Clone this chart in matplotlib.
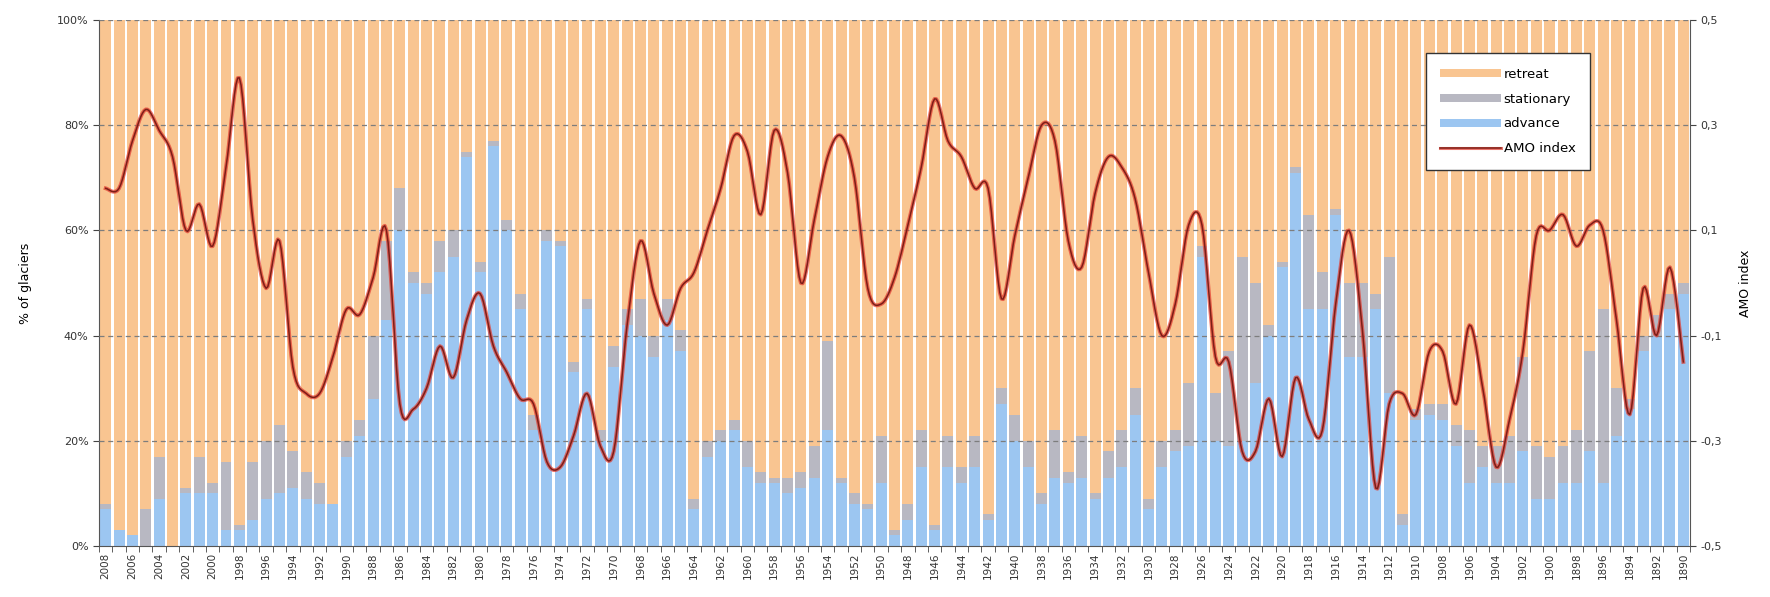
import matplotlib
matplotlib.use("Agg")
import matplotlib.pyplot as plt
import matplotlib.patheffects as pe
from matplotlib.patches import Patch
from matplotlib.lines import Line2D
import numpy as np

# ---------------- data ----------------
years = list(range(2008, 1889, -1))  # 2008 ... 1890

advance = [7, 3, 2, 0, 9, 0, 10, 10, 10, 3,
           3, 5, 9, 10, 11, 9, 8, 8, 17, 21,
           28, 43, 60, 50, 48, 52, 55, 74, 52, 76,
           60, 45, 22, 58, 57, 33, 45, 20, 34, 42,
           40, 36, 43, 37, 7, 17, 20, 22, 15, 12,
           12, 10, 11, 13, 22, 12, 8, 7, 12, 2,
           5, 15, 3, 15, 12, 15, 5, 27, 20, 15,
           8, 13, 12, 13, 9, 13, 15, 25, 7, 15,
           18, 19, 55, 20, 19, 20, 31, 40, 53, 71,
           45, 45, 63, 36, 36, 45, 29, 4, 24, 25,
           24, 19, 12, 15, 12, 12, 18, 9, 9, 12,
           12, 18, 12, 21, 26, 37, 40, 45, 48]

stationary = [1, 0, 0, 7, 8, 0, 1, 7, 2, 13,
              1, 11, 11, 13, 7, 5, 4, 0, 3, 3,
              12, 15, 8, 2, 2, 6, 5, 1, 2, 1,
              2, 3, 3, 2, 1, 2, 2, 2, 4, 3,
              7, 4, 4, 4, 2, 3, 2, 2, 5, 2,
              1, 3, 3, 6, 17, 1, 2, 1, 9, 1,
              3, 7, 1, 6, 3, 6, 1, 3, 5, 5,
              2, 9, 2, 8, 1, 5, 7, 5, 2, 5,
              4, 12, 2, 9, 18, 35, 19, 2, 1, 1,
              18, 7, 1, 14, 14, 3, 26, 2, 2, 2,
              3, 4, 10, 4, 7, 9, 18, 10, 8, 7,
              10, 19, 33, 9, 2, 3, 4, 3, 2]

amo = [0.18, 0.18, 0.27, 0.33, 0.29, 0.24, 0.10, 0.15, 0.07, 0.22,
       0.39, 0.12, -0.01, 0.08, -0.16, -0.21, -0.21, -0.14, -0.05, -0.06,
       0.01, 0.10, -0.23, -0.24, -0.20, -0.12, -0.18, -0.07, -0.02, -0.12,
       -0.17, -0.22, -0.23, -0.34, -0.35, -0.29, -0.21, -0.31, -0.32, -0.08,
       0.08, -0.02, -0.08, -0.01, 0.02, 0.10, 0.18, 0.28, 0.25, 0.13,
       0.29, 0.21, 0.00, 0.12, 0.24, 0.28, 0.20, -0.01, -0.04, 0.01,
       0.11, 0.22, 0.35, 0.27, 0.24, 0.18, 0.18, -0.03, 0.09, 0.20,
       0.30, 0.27, 0.08, 0.03, 0.17, 0.24, 0.22, 0.16, 0.02, -0.10,
       -0.04, 0.11, 0.11, -0.14, -0.15, -0.32, -0.32, -0.22, -0.33, -0.18,
       -0.26, -0.28, -0.04, 0.10, -0.09, -0.39, -0.23, -0.21, -0.25, -0.13,
       -0.13, -0.23, -0.08, -0.20, -0.35, -0.26, -0.13, 0.09, 0.10, 0.13,
       0.07, 0.11, 0.10, -0.07, -0.25, -0.01, -0.10, 0.03, -0.15]

retreat = [100 - a - s for a, s in zip(advance, stationary)]

series_labels = ["retreat", "stationary", "advance", "AMO index"]
pct_ticks = [0, 20, 40, 60, 80, 100]
amo_ticks = [-0.5, -0.3, -0.1, 0.1, 0.3, 0.5]

# ---------------- style ----------------
C_RET = "#F9C591"
C_STA = "#B8B8C2"
C_ADV = "#9CC6F1"
C_LINE = "#E23A2E"
C_LINE_CORE = "#7E1E17"


def smooth(xs, ys, n=8):
    """Catmull-Rom rendering of the line (like Excel's smoothed line)."""
    xs = np.asarray(xs, float)
    ys = np.asarray(ys, float)
    P = np.column_stack([xs, ys])
    P = np.vstack([P[0], P, P[-1]])
    out = []
    t = np.linspace(0, 1, n, endpoint=False)
    for i in range(1, len(P) - 2):
        p0, p1, p2, p3 = P[i - 1], P[i], P[i + 1], P[i + 2]
        tt = t[:, None]
        seg = 0.5 * ((2 * p1) + (-p0 + p2) * tt + (2 * p0 - 5 * p1 + 4 * p2 - p3) * tt ** 2
                     + (-p0 + 3 * p1 - 3 * p2 + p3) * tt ** 3)
        out.append(seg)
    out.append(P[-2][None, :])
    out = np.vstack(out)
    return out[:, 0], out[:, 1]


fig = plt.figure(figsize=(17.7, 5.97), dpi=100)
W, H = 1770, 597
left, right, top, bottom = 99, 1690, 20, 546
ax = fig.add_axes([left / W, 1 - bottom / H, (right - left) / W, (bottom - top) / H])

x = np.arange(len(years))
bw = 0.82
ax.bar(x, advance, width=bw, color=C_ADV, zorder=2, linewidth=0)
ax.bar(x, stationary, width=bw, bottom=advance, color=C_STA, zorder=2, linewidth=0)
ax.bar(x, retreat, width=bw, bottom=[a + s for a, s in zip(advance, stationary)],
       color=C_RET, zorder=2, linewidth=0)

for yv in pct_ticks[1:]:
    ax.axhline(yv, color="#7d7d7d", lw=0.9, ls=(0, (4, 3)), zorder=3)

ax.set_xlim(-0.5, len(years) - 0.5)
ax.set_ylim(0, 100)
ax.set_yticks(pct_ticks)
ax.set_yticklabels([f"{v}%" for v in pct_ticks], fontsize=8, color="#333333")
ax.set_xticks(x[::2])
ax.set_xticklabels([str(years[i]) for i in x[::2]], rotation=90, fontsize=7.5, color="#333333")
ax.tick_params(axis="x", which="major", length=0, pad=5)
ax.set_xticks(np.arange(-0.5, len(years), 1), minor=True)
ax.tick_params(axis="x", which="minor", length=4, color="#444444")
ax.tick_params(axis="y", length=4, color="#444444")
for side in ["top", "right"]:
    ax.spines[side].set_visible(False)
for side in ["left", "bottom"]:
    ax.spines[side].set_color("#555555")
ax.set_ylabel("% of glaciers", fontsize=9, labelpad=18)

ax2 = ax.twinx()
ax2.set_ylim(-0.5, 0.5)
ax2.set_yticks(amo_ticks)
ax2.set_yticklabels([f"{v:.1f}".replace(".", ",") for v in amo_ticks], fontsize=8, color="#333333")
ax2.tick_params(axis="y", length=4, color="#444444")
for side in ["top", "left", "bottom"]:
    ax2.spines[side].set_visible(False)
ax2.spines["right"].set_color("#555555")
ax2.set_ylabel("AMO index", fontsize=9, labelpad=12)

sx, sy = smooth(x, amo)
ax2.plot(sx, sy, color=C_LINE_CORE, lw=1.1, zorder=5,
         path_effects=[pe.Stroke(linewidth=2.8, foreground=C_LINE, alpha=0.7), pe.Normal()])

handles = [Patch(facecolor=C_RET, edgecolor="none"),
           Patch(facecolor=C_STA, edgecolor="none"),
           Patch(facecolor=C_ADV, edgecolor="none"),
           Line2D([0], [0], color=C_LINE_CORE, lw=1.1,
                  path_effects=[pe.Stroke(linewidth=2.2, foreground=C_LINE, alpha=0.7), pe.Normal()])]
leg = ax2.legend(handles, series_labels, loc="upper left", bbox_to_anchor=(0.834, 0.937),
                 fontsize=9.5, frameon=True, fancybox=False, framealpha=1,
                 edgecolor="#333333", handlelength=4.6, handleheight=0.6,
                 borderpad=1.1, labelspacing=0.9, handletextpad=0.2, borderaxespad=0)
leg.get_frame().set_linewidth(1.0)

fig.savefig("out.png", dpi=100)
